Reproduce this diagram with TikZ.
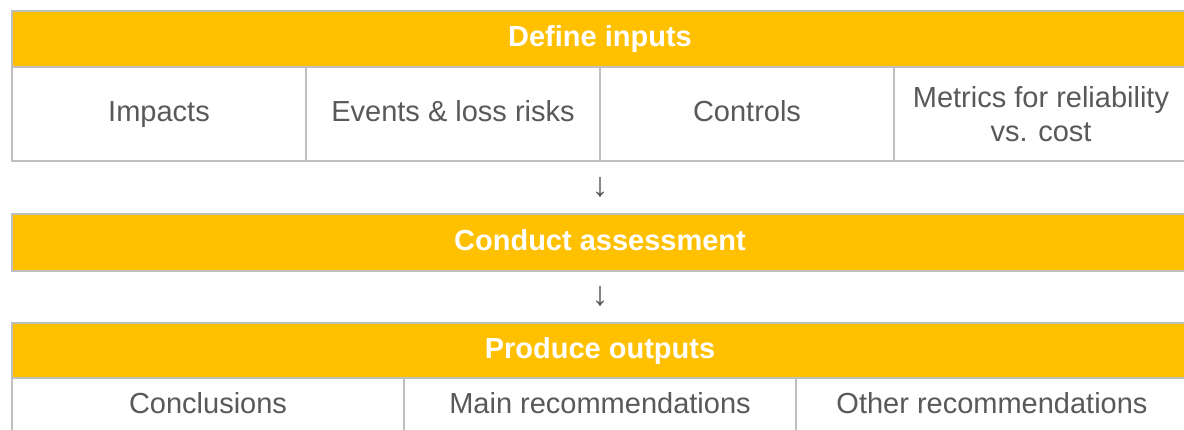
\documentclass[tikz,border=0pt]{standalone}
\usepackage{fontspec}
\setmainfont{Liberation Sans}
\definecolor{gold}{HTML}{FFC000}
\definecolor{rule}{HTML}{BFBFBF}
\definecolor{txt}{HTML}{595959}
\begin{document}
\begin{tikzpicture}[x=1pt,y=-1pt,
  every node/.style={inner sep=0pt, outer sep=0pt, font=\fontsize{29}{34}\selectfont},
  band/.style={draw=rule, line width=2pt, fill=gold, text=white, font=\fontsize{29}{34}\selectfont\bfseries, anchor=north west, minimum width=1176pt, text height=21pt, text depth=6pt},
  cell/.style={draw=rule, line width=2pt, fill=white, text=txt, align=center, anchor=north west},
  one/.style={text height=21pt, text depth=6pt},
  arr/.style={text=txt, font=\fontsize{34}{38}\selectfont}
]
\useasboundingbox (0,0) rectangle (1184,429);
\clip (0,0) rectangle (1184,429);
% Define inputs
\node[band, minimum height=56pt] (def) at (12,11) {Define inputs};
\node[cell, one, minimum width=294pt, minimum height=94pt] (c1) at (12,67) {Impacts};
\node[cell, one, minimum width=294pt, minimum height=94pt] (c2) at (306,67) {Events \& loss risks};
\node[cell, one, minimum width=294pt, minimum height=94pt] (c3) at (600,67) {Controls};
\node[cell, minimum width=294pt, minimum height=94pt] (c4) at (894,67) {Metrics for reliability\\vs. cost};
% arrow 1
\node[arr] (a1) at (600,187) {↓};
% Conduct assessment
\node[band, minimum height=57pt] (con) at (12,214) {Conduct assessment};
% arrow 2
\node[arr] (a2) at (600,296) {↓};
% Produce outputs
\node[band, minimum height=55pt] (pro) at (12,323) {Produce outputs};
\node[cell, one, minimum width=392pt, minimum height=56pt] (o1) at (12,378) {Conclusions};
\node[cell, one, minimum width=392pt, minimum height=56pt] (o2) at (404,378) {Main recommendations};
\node[cell, one, minimum width=392pt, minimum height=56pt] (o3) at (796,378) {Other recommendations};
\end{tikzpicture}
\end{document}
